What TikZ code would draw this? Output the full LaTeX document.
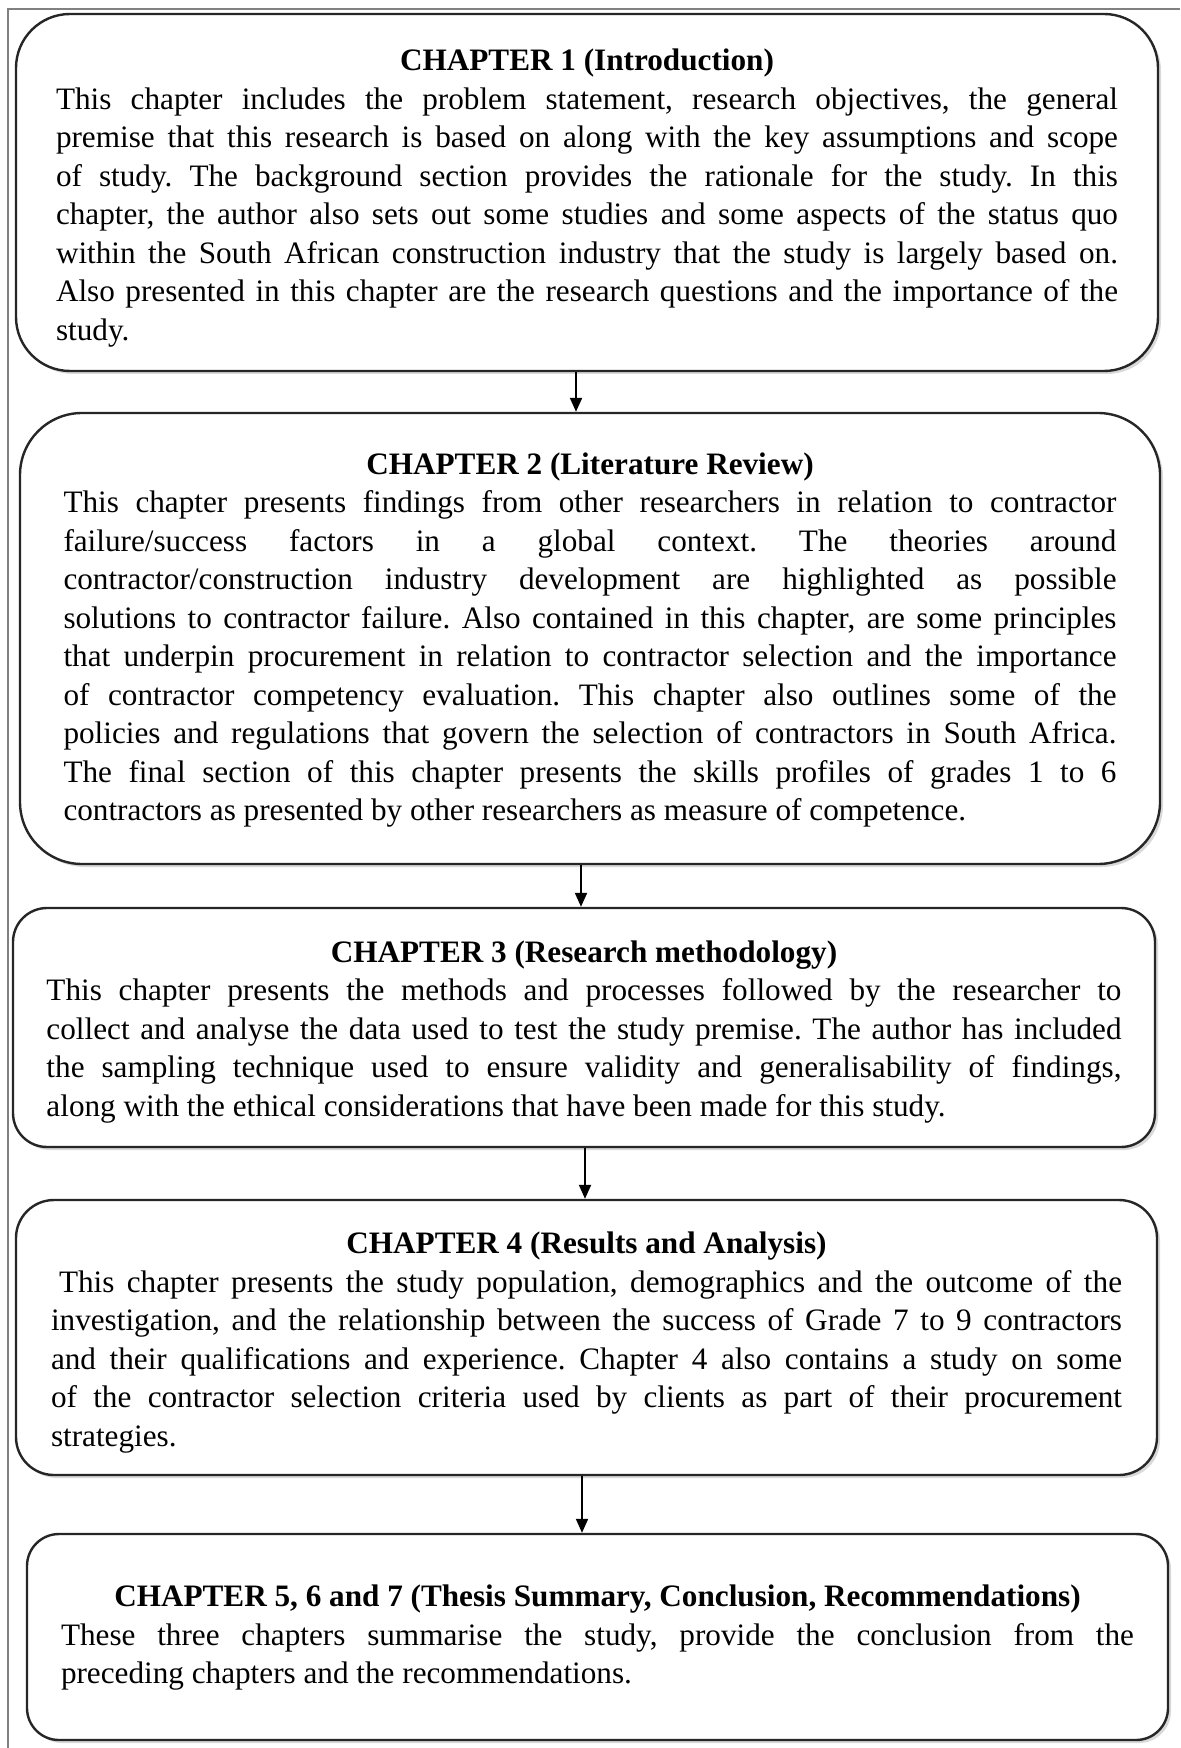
\documentclass[tikz,border=0pt]{standalone}
\usepackage{fontspec}
\setmainfont{Liberation Serif}
\usetikzlibrary{shadows,arrows.meta}
\frenchspacing

\newcommand{\chaptitle}[2][0pt]{\par\vspace*{#1}{\centering\bfseries #2\par}}

\tikzset{
  chapbox/.style={draw=black!85, line width=1.2pt, fill=white, align=justify,
    inner sep=0pt, font=\fontsize{15.6}{19.25}\selectfont,
    drop shadow={shadow xshift=1.5pt, shadow yshift=-1.5pt, opacity=0.3}},
  flowarrow/.style={line width=1pt, -{Triangle[length=7pt,width=6pt]}}
}

\begin{document}
\begin{tikzpicture}[x=0.5pt,y=-0.5pt]
\useasboundingbox (0,0) rectangle (1180,1748);

% Frame
\draw[gray, line width=1pt] (8,1748) -- (8,9) -- (1180,9);

% Chapter 1
\node[chapbox, minimum width=571pt, minimum height=178.5pt, text width=531pt,
  rounded corners=27pt] (ch1) at (587,192.5) {%
\chaptitle[-2.9pt]{CHAPTER 1 (Introduction)}
This chapter includes the problem statement, research objectives, the general\linebreak
premise that this research is based on along with the key assumptions and scope\linebreak
of study. The background section provides the rationale for the study. In this\linebreak
chapter, the author also sets out some studies and some aspects of the status quo\linebreak
within the South African construction industry that the study is largely based on.\linebreak
Also presented in this chapter are the research questions and the importance of the\linebreak
study.};

% Chapter 2
\node[chapbox, minimum width=570pt, minimum height=225.5pt, text width=526.5pt,
  rounded corners=31pt] (ch2) at (590,638.5) {%
\chaptitle[-6.8pt]{CHAPTER 2 (Literature Review)}
This chapter presents findings from other researchers in relation to contractor\linebreak
failure/success factors in a global context. The theories around\linebreak
contractor/construction industry development are highlighted as possible\linebreak
solutions to contractor failure. Also contained in this chapter, are some principles\linebreak
that underpin procurement in relation to contractor selection and the importance\linebreak
of contractor competency evaluation. This chapter also outlines some of the\linebreak
policies and regulations that govern the selection of contractors in South Africa.\linebreak
The final section of this chapter presents the skills profiles of grades 1 to 6\linebreak
contractors as presented by other researchers as measure of competence.};

% Chapter 3
\node[chapbox, minimum width=571pt, minimum height=119.5pt, text width=537.5pt,
  rounded corners=17pt] (ch3) at (584,1027.5) {%
\chaptitle[-4.3pt]{CHAPTER 3 (Research methodology)}
This chapter presents the methods and processes followed by the researcher to\linebreak
collect and analyse the data used to test the study premise. The author has included\linebreak
the sampling technique used to ensure validity and generalisability of findings,\linebreak
along with the ethical considerations that have been made for this study.};

% Chapter 4
\node[chapbox, minimum width=570.5pt, minimum height=137.5pt, text width=535.5pt,
  rounded corners=19pt] (ch4) at (586.5,1337.5) {%
\chaptitle[-3.4pt]{CHAPTER 4 (Results and Analysis)}
\hspace*{4pt}This chapter presents the study population, demographics and the outcome of the\linebreak
investigation, and the relationship between the success of Grade 7 to 9 contractors\linebreak
and their qualifications and experience. Chapter 4 also contains a study on some\linebreak
of the contractor selection criteria used by clients as part of their procurement\linebreak
strategies.};

% Chapters 5-7
\node[chapbox, minimum width=570.5pt, minimum height=103pt, text width=536.5pt,
  rounded corners=16pt] (ch5) at (597.5,1637) {%
\chaptitle[-7.5pt]{CHAPTER 5, 6 and 7 (Thesis Summary, Conclusion, Recommendations)}
These three chapters summarise the study, provide the conclusion from the\linebreak
preceding chapters and the recommendations.};

% Arrows
\foreach \a/\b/\x in {ch1/ch2/576, ch2/ch3/581, ch3/ch4/585, ch4/ch5/582}
  \draw[flowarrow] (\a.south -| \x,0) -- (\b.north -| \x,0);

\end{tikzpicture}
\end{document}
